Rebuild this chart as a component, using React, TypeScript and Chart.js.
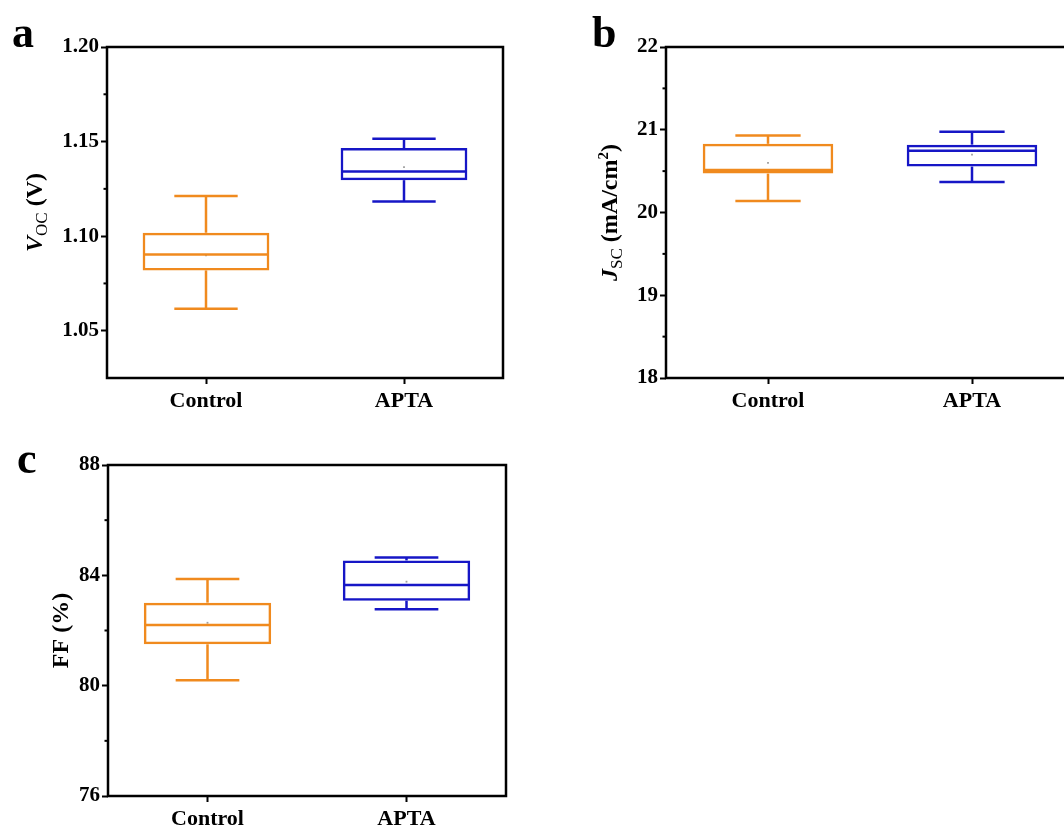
import React, { useEffect, useRef } from "react";
import { Chart, registerables } from "chart.js";

Chart.register(...registerables);

const FONT = "'Liberation Serif', 'Times New Roman', serif";

const CATEGORIES = ["Control", "APTA"];
const COLORS = ["#F08A1E", "#1616C6"];

// Panel a: Voc (V)
const VOC_LOW = [1.0616, 1.1183];
const VOC_Q1 = [1.0819, 1.1296];
const VOC_MEDIAN = [1.0903, 1.1342];
const VOC_Q3 = [1.1018, 1.1466];
const VOC_HIGH = [1.1212, 1.1515];
const VOC_MEAN = [1.0898, 1.1365];
const VOC_TICKS = [1.05, 1.1, 1.15, 1.2];
const VOC_MINOR = [1.075, 1.125, 1.175];

// Panel b: Jsc (mA/cm2)
const JSC_LOW = [20.14, 20.37];
const JSC_Q1 = [20.47, 20.555];
const JSC_MEDIAN = [20.514, 20.745];
const JSC_Q3 = [20.83, 20.82];
const JSC_HIGH = [20.93, 20.975];
const JSC_MEAN = [20.6, 20.7];
const JSC_TICKS = [18, 19, 20, 21, 22];
const JSC_MINOR = [18.5, 19.5, 20.5, 21.5];

// Panel c: FF (%)
const FF_LOW = [80.2, 82.77];
const FF_Q1 = [81.5, 83.08];
const FF_MEDIAN = [82.2, 83.65];
const FF_Q3 = [83.01, 84.54];
const FF_HIGH = [83.87, 84.65];
const FF_MEAN = [82.28, 83.77];
const FF_TICKS = [76, 80, 84, 88];
const FF_MINOR = [78, 82, 86];

type Piece = { t: string; font: string; dy: number };

type PanelProps = {
  left: number;
  top: number;
  width: number;
  height: number;
  plotLeft: number;
  plotTop: number;
  plotRight: number;
  plotBottom: number;
  titleX: number;
  title: Piece[];
  low: number[];
  q1: number[];
  median: number[];
  q3: number[];
  high: number[];
  mean: number[];
  ticks: number[];
  minor: number[];
  min: number;
  max: number;
  decimals: number;
};

function Panel(p: PanelProps) {
  const ref = useRef<HTMLCanvasElement | null>(null);
  useEffect(() => {
    const canvas = ref.current;
    if (!canvas) return;

    const boxPlugin = {
      id: "boxWhiskers",
      afterDatasetsDraw(chart: any) {
        const ctx = chart.ctx;
        const ys = chart.scales.y;
        const meta = chart.getDatasetMeta(0);
        ctx.save();
        ctx.lineWidth = 2.5;
        ctx.lineCap = "butt";
        meta.data.forEach((bar: any, i: number) => {
          const x = bar.x;
          const w = bar.width;
          ctx.strokeStyle = COLORS[i];
          const line = (x1: number, y1: number, x2: number, y2: number) => {
            ctx.beginPath();
            ctx.moveTo(x1, y1);
            ctx.lineTo(x2, y2);
            ctx.stroke();
          };
          const yMed = ys.getPixelForValue(p.median[i]);
          const yQ1 = ys.getPixelForValue(p.q1[i]);
          const yQ3 = ys.getPixelForValue(p.q3[i]);
          const yLo = ys.getPixelForValue(p.low[i]);
          const yHi = ys.getPixelForValue(p.high[i]);
          line(x - w / 2 + 1, yMed, x + w / 2 - 1, yMed);
          line(x, yQ3, x, yHi);
          line(x, yQ1, x, yLo);
          line(x - w / 4, yHi, x + w / 4, yHi);
          line(x - w / 4, yLo, x + w / 4, yLo);
        });
        ctx.restore();
      },
      afterDraw(chart: any) {
        const ctx = chart.ctx;
        const a = chart.chartArea;
        const ys = chart.scales.y;
        ctx.save();
        ctx.strokeStyle = "#000";
        ctx.lineWidth = 2.5;
        ctx.strokeRect(a.left, a.top, a.right - a.left, a.bottom - a.top);
        ctx.lineWidth = 2;
        p.minor.forEach((v) => {
          const y = ys.getPixelForValue(v);
          ctx.beginPath();
          ctx.moveTo(a.left - 3.5, y);
          ctx.lineTo(a.left, y);
          ctx.stroke();
        });
        // y-axis title
        const cy = (a.top + a.bottom) / 2;
        ctx.translate(p.titleX, cy);
        ctx.rotate(-Math.PI / 2);
        ctx.fillStyle = "#000";
        ctx.textBaseline = "alphabetic";
        ctx.textAlign = "left";
        let total = 0;
        p.title.forEach((pc) => {
          ctx.font = pc.font;
          total += ctx.measureText(pc.t).width;
        });
        let x = -total / 2;
        p.title.forEach((pc) => {
          ctx.font = pc.font;
          ctx.fillText(pc.t, x, pc.dy);
          x += ctx.measureText(pc.t).width;
        });
        ctx.restore();
      },
    };

    const chart = new Chart(canvas, {
      type: "bar",
      data: {
        labels: CATEGORIES,
        datasets: [
          {
            type: "bar",
            data: CATEGORIES.map((_, i) => [p.q1[i], p.q3[i]]) as any,
            backgroundColor: "rgba(0,0,0,0)",
            borderColor: COLORS,
            borderWidth: 2.5,
            borderSkipped: false,
            barPercentage: 0.64,
            categoryPercentage: 1,
          } as any,
          {
            type: "line",
            data: p.mean,
            showLine: false,
            pointRadius: 1.3,
            pointBorderWidth: 0,
            pointBackgroundColor: "#a0a0a0",
            pointStyle: "rect",
          } as any,
        ],
      },
      options: {
        responsive: false,
        animation: false,
        events: [],
        layout: {
          padding: {
            top: p.plotTop - p.top,
            right: p.left + p.width - p.plotRight,
            left: 0,
            bottom: 0,
          },
        },
        plugins: {
          legend: { display: false },
          tooltip: { enabled: false },
        },
        scales: {
          x: {
            offset: true,
            border: { display: false },
            grid: {
              offset: false,
              drawOnChartArea: false,
              drawTicks: true,
              tickLength: 6,
              tickWidth: 2,
              tickColor: "#000",
            },
            ticks: {
              color: "#000",
              padding: 4,
              font: { family: FONT, size: 22, weight: "bold" },
              maxRotation: 0,
            },
            afterFit: (s: any) => {
              s.height = p.top + p.height - p.plotBottom;
            },
          },
          y: {
            min: p.min,
            max: p.max,
            border: { display: false },
            afterBuildTicks: (s: any) => {
              s.ticks = p.ticks.map((v) => ({ value: v }));
            },
            grid: {
              drawOnChartArea: false,
              drawTicks: true,
              tickLength: 6,
              tickWidth: 2,
              tickColor: "#000",
            },
            ticks: {
              color: "#000",
              padding: 2,
              font: { family: FONT, size: 21, weight: "bold" },
              callback: (v: any) => Number(v).toFixed(p.decimals),
            },
            afterFit: (s: any) => {
              s.width = p.plotLeft - p.left;
            },
          },
        },
      } as any,
      plugins: [boxPlugin],
    });
    return () => chart.destroy();
  }, []);

  return (
    <canvas
      ref={ref}
      width={p.width}
      height={p.height}
      style={{
        position: "absolute",
        left: p.left,
        top: p.top,
        width: p.width,
        height: p.height,
      }}
    />
  );
}

const BIG = `bold 24px ${FONT}`;
const BIG_I = `italic bold 24px ${FONT}`;
const SUB = `17px ${FONT}`;
const SUP = `bold 15px ${FONT}`;

const letterStyle = (left: number, top: number): React.CSSProperties => ({
  position: "absolute",
  left,
  top,
  fontFamily: FONT,
  fontWeight: "bold",
  fontSize: 44,
  lineHeight: 1,
  color: "#000",
});

export default function App() {
  return (
    <div
      style={{
        position: "absolute",
        left: 0,
        top: 0,
        width: 1064,
        height: 830,
        overflow: "hidden",
        background: "#fff",
      }}
    >
      <Panel
        left={0}
        top={0}
        width={530}
        height={418}
        plotLeft={107}
        plotTop={47}
        plotRight={503}
        plotBottom={378}
        titleX={42}
        title={[
          { t: "V", font: BIG_I, dy: 0 },
          { t: "OC", font: SUB, dy: 5 },
          { t: " (V)", font: BIG, dy: 0 },
        ]}
        low={VOC_LOW}
        q1={VOC_Q1}
        median={VOC_MEDIAN}
        q3={VOC_Q3}
        high={VOC_HIGH}
        mean={VOC_MEAN}
        ticks={VOC_TICKS}
        minor={VOC_MINOR}
        min={1.025}
        max={1.2}
        decimals={2}
      />
      <Panel
        left={540}
        top={0}
        width={550}
        height={418}
        plotLeft={666}
        plotTop={47}
        plotRight={1074}
        plotBottom={378}
        titleX={77}
        title={[
          { t: "J", font: BIG_I, dy: 0 },
          { t: "SC", font: SUB, dy: 5 },
          { t: " (mA/cm", font: BIG, dy: 0 },
          { t: "2", font: SUP, dy: -9 },
          { t: ")", font: BIG, dy: 0 },
        ]}
        low={JSC_LOW}
        q1={JSC_Q1}
        median={JSC_MEDIAN}
        q3={JSC_Q3}
        high={JSC_HIGH}
        mean={JSC_MEAN}
        ticks={JSC_TICKS}
        minor={JSC_MINOR}
        min={18}
        max={22}
        decimals={0}
      />
      <Panel
        left={0}
        top={420}
        width={530}
        height={410}
        plotLeft={108}
        plotTop={465}
        plotRight={506}
        plotBottom={796}
        titleX={68}
        title={[{ t: "FF (%)", font: BIG, dy: 0 }]}
        low={FF_LOW}
        q1={FF_Q1}
        median={FF_MEDIAN}
        q3={FF_Q3}
        high={FF_HIGH}
        mean={FF_MEAN}
        ticks={FF_TICKS}
        minor={FF_MINOR}
        min={76}
        max={88}
        decimals={0}
      />
      <div style={letterStyle(12, 11)}>a</div>
      <div style={letterStyle(592, 11)}>b</div>
      <div style={letterStyle(17, 437)}>c</div>
    </div>
  );
}
